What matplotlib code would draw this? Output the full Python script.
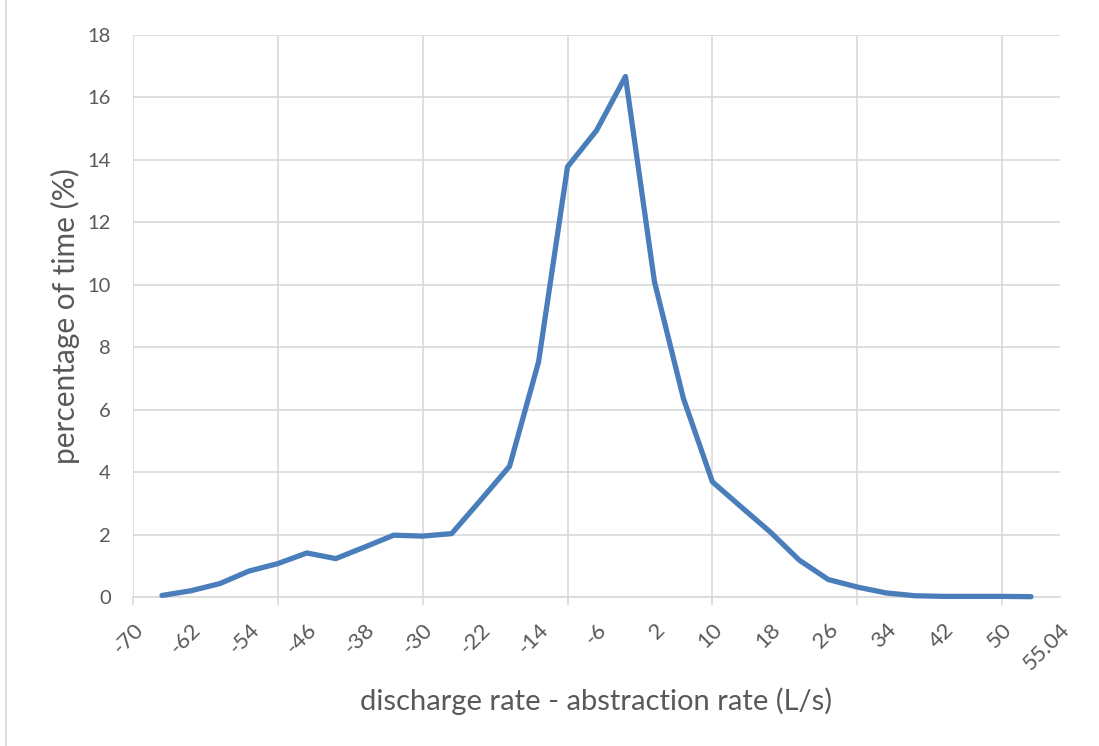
import matplotlib
matplotlib.use("Agg")
import matplotlib.pyplot as plt
from matplotlib.lines import Line2D

# ---- data ----
rate = [-66, -62, -58, -54, -50, -46, -42, -38, -34, -30, -26, -22, -18, -14, -10,
        -6, -2, 2, 6, 10, 14, 18, 22, 26, 30, 34, 38, 42, 46, 50, 54]
pct_time = [0.05, 0.2, 0.43, 0.83, 1.07, 1.41, 1.23, 1.6, 1.98, 1.95, 2.03, 3.1, 4.19,
            7.53, 13.78, 14.94, 16.67, 10.1, 6.36, 3.69, 2.88, 2.08, 1.18, 0.56, 0.32,
            0.13, 0.04, 0.02, 0.02, 0.02, 0.01]
label_pos = [-70, -62, -54, -46, -38, -30, -22, -14, -6, 2, 10, 18, 26, 34, 42, 50, 58]
label_txt = ["-70", "-62", "-54", "-46", "-38", "-30", "-22", "-14", "-6", "2", "10",
             "18", "26", "34", "42", "50", "55.04"]
grid_x = [-70, -50, -30, -10, 10, 30, 50]
y_ticks = [0, 2, 4, 6, 8, 10, 12, 14, 16, 18]

TEXT = "#595959"
GRID = "#d9d9d9"
LINE = "#4a7ebb"
plt.rcParams['font.family'] = ['Lato', 'DejaVu Sans']

W, H = 1099, 746
fig = plt.figure(figsize=(W / 100, H / 100), dpi=100)
ax = fig.add_axes([133 / W, (H - 597) / H, (1060 - 133) / W, (597 - 35) / H])

ax.plot(rate, pct_time, color=LINE, lw=3.8, solid_joinstyle='round',
        solid_capstyle='round', zorder=3, clip_on=False)

ax.set_xlim(-70, 58)
ax.set_ylim(0, 18)

ax.set_yticks(y_ticks)
ax.set_yticklabels([str(v) for v in y_ticks])
ax.tick_params(axis='y', length=0, pad=16, labelsize=14.5, labelcolor=TEXT)

ax.xaxis.remove_overlapping_locs = False
ax.set_xticks(grid_x)
ax.set_xticklabels([])
ax.tick_params(axis='x', which='major', length=6, width=1.2, color=GRID, direction='out')
ax.set_xticks(label_pos, minor=True)
ax.set_xticklabels(label_txt, minor=True)
ax.tick_params(axis='x', which='minor', length=0, pad=16, labelsize=16, labelcolor=TEXT)
for lbl in ax.get_xticklabels(minor=True):
    lbl.set_rotation(45)
    lbl.set_ha('right')
    lbl.set_va('top')
    lbl.set_rotation_mode('anchor')

ax.grid(True, which='major', color=GRID, lw=1.2)
ax.set_axisbelow(True)
for s in ['top', 'right', 'left']:
    ax.spines[s].set_visible(False)
ax.spines['bottom'].set_color(GRID)
ax.spines['bottom'].set_linewidth(1.2)

ax.set_ylabel("percentage of time (%)", fontsize=21.5, color=TEXT, labelpad=5)
ax.set_xlabel("discharge rate - abstraction rate (L/s)", fontsize=21, color=TEXT, labelpad=10)

fig.add_artist(Line2D([6 / W, 6 / W], [0, 1], transform=fig.transFigure, color=GRID, lw=1.2))

fig.savefig("out.png", dpi=100)
